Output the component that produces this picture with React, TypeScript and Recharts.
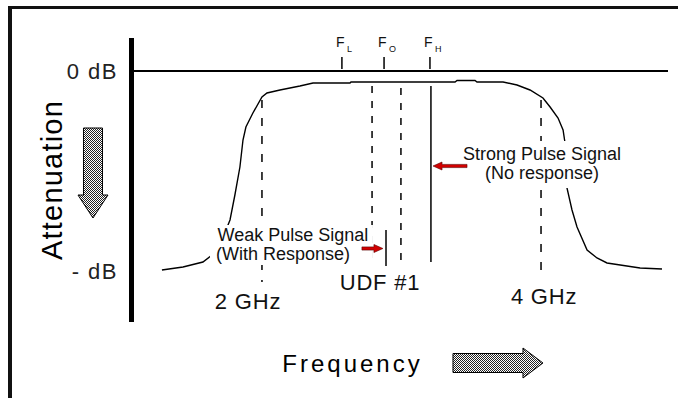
import React from 'react';
import { ComposedChart, Line, XAxis, YAxis, ReferenceLine, ReferenceDot } from 'recharts';

const FONT = '"Liberation Sans", Arial, sans-serif';

// filter response: frequency (GHz) vs attenuation (dB)
const curveFreq = [1.283, 1.434, 1.577, 1.642, 1.713, 1.771, 1.806, 1.842, 1.864, 1.885, 1.935, 2.0, 2.036, 2.129, 2.272, 2.366, 2.631, 2.638, 3.384, 3.398, 3.527, 3.541, 3.728, 3.828, 3.921, 4.014, 4.065, 4.122, 4.158, 4.172, 4.179, 4.186, 4.222, 4.258, 4.33, 4.401, 4.473, 4.71, 4.867];
const curveDb = [-39.8, -39.2, -38.2, -36.8, -33.8, -29.8, -24.8, -19.2, -13.8, -11.2, -8.4, -5.2, -4.4, -3.8, -3.0, -2.4, -2.4, -2.2, -2.2, -1.9, -1.9, -2.2, -2.2, -2.8, -3.8, -5.4, -7.2, -9.4, -11.8, -14.4, -18.8, -23.4, -27.8, -31.2, -35.8, -37.4, -38.4, -39.4, -39.6];

const yTicks = [0, -40];
const yTickLabels: Record<number, string> = { 0: '0 dB', [-40]: '- dB' };

// band edges
const edgeFreqs = [2, 4];
const edgeLabels = ['2 GHz', '4 GHz'];
const edgeLabelFreqs = [1.9, 4.022];
const edgeLabelDb = [-47.6, -46.6];
const edgeTopDb = -5.8;
const edgeBottomDb = [-42.2, -41.2];

// F_L, F_O, F_H markers on the 0 dB line
const fFreqs = [2.573, 2.875, 3.204];
const fSubs = ['L', 'O', 'H'];

// pulse / UDF lines
const dashedFreqs = [2.789, 2.996];
const dashedTopDb = [-3.0, -3.4];
const dashedBottomDb = [-38.4, -39.2];
const udfFreq = 2.889;
const strongFreq = 3.211;

const data = curveFreq.map((f, i) => ({ f, db: curveDb[i] }));

const Stipple = ({ id }: { id: string }) => (
  <defs>
    <pattern id={id} width="2" height="2" patternUnits="userSpaceOnUse">
      <rect width="2" height="2" fill="#fff" />
      <rect width="1" height="1" fill="#222" />
      <rect x="1" y="1" width="1" height="1" fill="#222" />
    </pattern>
  </defs>
);

const TextBox = ({ cx, cy, lines, offsets, box }: any) => (
  <g>
    <rect x={cx + box[0]} y={cy + box[1]} width={box[2]} height={box[3]} fill="#fff" />
    {lines.map((t: string, i: number) => (
      <text key={t} x={cx + offsets[i]} y={cy + i * 19} textAnchor="middle" fontSize={18} fontFamily={FONT} fill="#111">
        {t}
      </text>
    ))}
  </g>
);

const RedArrow = ({ cx, cy, dir, len }: any) => {
  // tip at (cx, cy); dir = -1 points left, 1 points right
  const head = 9;
  const bx = cx - dir * head;
  const tx = cx - dir * len;
  const pts = [
    [cx, cy],
    [bx, cy - 4],
    [bx, cy - 1.6],
    [tx, cy - 1.6],
    [tx, cy + 1.6],
    [bx, cy + 1.6],
    [bx, cy + 4],
  ]
    .map((p) => p.join(','))
    .join(' ');
  return <polygon points={pts} fill="#d10000" stroke="#5a0000" strokeWidth={0.6} />;
};

export default function App() {
  return (
    <div style={{ position: 'absolute', left: 0, top: 0, width: 678, height: 398, background: '#fff' }}>
      <div
        style={{
          position: 'absolute',
          left: 8,
          top: 6,
          width: 670,
          height: 392,
          borderTop: '3px solid #111',
          borderLeft: '4px solid #111',
          boxSizing: 'border-box',
        }}
      />
      <div style={{ position: 'absolute', left: 0, top: 0 }}>
        <ComposedChart width={678} height={398} data={data} margin={{ top: 38, right: 10, bottom: 76, left: 31.5 }}>
          <XAxis dataKey="f" type="number" domain={[1.065, 4.91]} allowDataOverflow hide />
          <YAxis
            type="number"
            domain={[-50.2, 6.6]}
            allowDataOverflow
            ticks={yTicks}
            width={100}
            axisLine={{ stroke: '#000', strokeWidth: 5 }}
            tickLine={false}
            tickSize={0}
            tickMargin={13.5}
            tick={({ x, y, payload }: any) => (
              <text x={x} y={y} dy={8} textAnchor="end" fontSize={22} fontFamily={FONT} letterSpacing={1.5} fill="#222">
                {yTickLabels[payload.value]}
              </text>
            )}
          />

          <ReferenceLine y={0} stroke="#000" strokeWidth={2} />

          {fFreqs.map((f) => (
            <ReferenceLine key={'ft' + f} segment={[{ x: f, y: 2.8 }, { x: f, y: 0.4 }]} stroke="#000" strokeWidth={1.5} ifOverflow="visible" />
          ))}
          {fFreqs.map((f, i) => (
            <ReferenceDot
              key={'fl' + f}
              x={f}
              y={4.8}
              ifOverflow="visible"
              shape={(p: any) => (
                <g fontFamily={FONT} fill="#111">
                  <text x={p.cx - 6} y={p.cy} fontSize={14}>F</text>
                  <text x={p.cx + 5} y={p.cy + 5} fontSize={9}>{fSubs[i]}</text>
                </g>
              )}
            />
          ))}

          {edgeFreqs.map((f, i) => (
            <ReferenceLine
              key={'edge' + f}
              segment={[{ x: f, y: edgeTopDb }, { x: f, y: edgeBottomDb[i] }]}
              stroke="#000"
              strokeWidth={1.5}
              strokeDasharray="8 10"
              ifOverflow="visible"
            />
          ))}
          {dashedFreqs.map((f, i) => (
            <ReferenceLine
              key={'dash' + f}
              segment={[{ x: f, y: dashedTopDb[i] }, { x: f, y: dashedBottomDb[i] }]}
              stroke="#000"
              strokeWidth={1.5}
              strokeDasharray="7 8"
              ifOverflow="visible"
            />
          ))}
          <ReferenceLine segment={[{ x: strongFreq, y: -3.0 }, { x: strongFreq, y: -38.2 }]} stroke="#000" strokeWidth={1.5} />
          <ReferenceLine segment={[{ x: udfFreq, y: -31.8 }, { x: udfFreq, y: -39.0 }]} stroke="#000" strokeWidth={1.5} />

          <Line dataKey="db" type="linear" stroke="#000" strokeWidth={1.4} dot={false} isAnimationActive={false} />

          <ReferenceDot
            x={4.007}
            y={-17.8}
            ifOverflow="visible"
            shape={(p: any) => (
              <TextBox cx={p.cx} cy={p.cy} lines={['Strong Pulse Signal', '(No response)']} offsets={[0, 0]} box={[-87, -19, 172, 47]} />
            )}
          />
          <ReferenceDot
            x={2.222}
            y={-34}
            ifOverflow="visible"
            shape={(p: any) => (
              <TextBox cx={p.cx} cy={p.cy} lines={['Weak Pulse Signal', '(With Response)']} offsets={[0, -10]} box={[-83, -16, 163, 40]} />
            )}
          />
          <ReferenceDot x={3.226} y={-19} ifOverflow="visible" shape={(p: any) => <RedArrow cx={p.cx} cy={p.cy} dir={-1} len={34} />} />
          <ReferenceDot x={2.867} y={-35.5} ifOverflow="visible" shape={(p: any) => <RedArrow cx={p.cx} cy={p.cy} dir={1} len={21} />} />

          <ReferenceDot
            x={2.846}
            y={-43.8}
            ifOverflow="visible"
            shape={(p: any) => (
              <text x={p.cx} y={p.cy} textAnchor="middle" fontSize={22} fontFamily={FONT} letterSpacing={0.8} fill="#111">
                UDF #1
              </text>
            )}
          />
          {edgeLabels.map((t, i) => (
            <ReferenceDot
              key={t}
              x={edgeLabelFreqs[i]}
              y={edgeLabelDb[i]}
              ifOverflow="visible"
              shape={(p: any) => (
                <text x={p.cx} y={p.cy} textAnchor="middle" fontSize={22} fontFamily={FONT} letterSpacing={0.8} fill="#111">
                  {t}
                </text>
              )}
            />
          ))}

          <ReferenceDot
            x={2.649}
            y={-60.2}
            ifOverflow="visible"
            shape={(p: any) => (
              <text x={p.cx} y={p.cy} textAnchor="middle" fontSize={24} fontFamily={FONT} letterSpacing={3} fill="#000">
                Frequency
              </text>
            )}
          />
          <ReferenceDot
            x={3.369}
            y={-58.4}
            ifOverflow="visible"
            shape={(p: any) => (
              <g>
                <Stipple id="stipR" />
                <polygon
                  points={`${p.cx},${p.cy - 9.5} ${p.cx + 70},${p.cy - 9.5} ${p.cx + 70},${p.cy - 15} ${p.cx + 90},${p.cy} ${p.cx + 70},${p.cy + 15} ${p.cx + 70},${p.cy + 9.5} ${p.cx},${p.cy + 9.5}`}
                  fill="url(#stipR)"
                  stroke="#000"
                  strokeWidth={1}
                />
              </g>
            )}
          />

          <ReferenceDot
            x={0.487}
            y={-21.8}
            ifOverflow="visible"
            shape={(p: any) => (
              <text
                x={p.cx + 11}
                y={p.cy}
                transform={`rotate(-90, ${p.cx + 11}, ${p.cy})`}
                textAnchor="middle"
                fontSize={29}
                fontFamily={FONT}
                letterSpacing={1.2}
                fill="#000"
              >
                Attenuation
              </text>
            )}
          />
          <ReferenceDot
            x={0.789}
            y={-11.4}
            ifOverflow="visible"
            shape={(p: any) => (
              <g>
                <Stipple id="stipD" />
                <polygon
                  points={`${p.cx - 9.5},${p.cy} ${p.cx + 9.5},${p.cy} ${p.cx + 9.5},${p.cy + 67} ${p.cx + 15},${p.cy + 67} ${p.cx},${p.cy + 90} ${p.cx - 15},${p.cy + 67} ${p.cx - 9.5},${p.cy + 67}`}
                  fill="url(#stipD)"
                  stroke="#000"
                  strokeWidth={1}
                />
              </g>
            )}
          />
        </ComposedChart>
      </div>
    </div>
  );
}
